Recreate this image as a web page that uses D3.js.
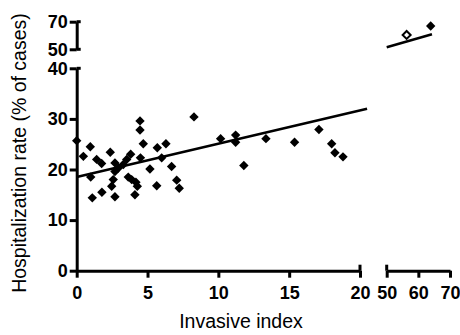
<!DOCTYPE html>
<html>
<head>
<meta charset="utf-8">
<script src="https://cdn.jsdelivr.net/npm/d3@7"></script>
<style>
  body { margin: 0; background: #fff; }
  svg { display: block; font-family: "Liberation Sans", Arial, sans-serif; }
</style>
</head>
<body>
<svg id="chart" width="460" height="335"></svg>
<script>
// invasive index (x) and hospitalization rate (y), lower panel
const invasiveIdx = [0, 0.96, 0.47, 1.41, 1.76, 2.37, 2.7, 2.94, 3.29, 3.53, 3.81, 2.7,
  0.99, 2.58, 2.47, 1.78, 1.1, 2.7, 3.64, 3.88, 4.18, 4.28, 4.11, 4.47, 4.47, 4.7,
  4.5, 5.17, 5.65, 5.69, 6.3, 6.0, 6.7, 7.06, 7.24, 8.28, 10.16, 11.22, 11.22, 11.8,
  13.36, 15.38, 17.1, 18.0, 18.23, 18.8];
const hospRate = [25.7, 24.5, 22.6, 22.0, 21.2, 23.4, 21.3, 20.3, 21.0, 22.0, 23.0, 19.6,
  18.5, 18.0, 16.7, 15.5, 14.4, 14.6, 18.5, 18.0, 17.5, 16.7, 15.0, 29.6, 27.8, 25.1,
  22.3, 20.1, 16.8, 24.3, 25.1, 22.3, 20.6, 17.9, 16.3, 30.4, 26.1, 26.8, 25.4, 20.8,
  26.1, 25.4, 27.9, 25.1, 23.3, 22.5];

// upper-right panel (broken axes)
const highIdx = [56.3, 63.9];
const highRate = [60.4, 66.9];
const highOpen = [true, false];

// regression line endpoints
const fitX = [0, 20.5];
const fitY = [18.5, 32.0];
const highFitX = [50, 64.3];
const highFitY = [51.5, 60.9];

const xTicksLow = [0, 5, 10, 15, 20];
const xTicksHigh = [50, 60, 70];
const yTicksLow = [0, 10, 20, 30, 40];
const yTicksHigh = [50, 70];

const svg = d3.select("#chart");

const xLow = d3.scaleLinear().domain([0, 20]).range([76.7, 360]);
const xHigh = d3.scaleLinear().domain([50, 70]).range([386.7, 450]);
const yLow = d3.scaleLinear().domain([0, 40]).range([270.7, 68.3]);
const yHigh = d3.scaleLinear().domain([50, 70]).range([49.3, 21.7]);

function styleAxis(g) {
  g.select(".domain").attr("stroke", "#000").attr("stroke-width", 3);
  g.selectAll(".tick line").attr("stroke", "#000").attr("stroke-width", 3);
  g.selectAll(".tick text")
    .attr("fill", "#000")
    .style("font-size", "18px")
    .style("font-weight", "bold");
}

// x axes
const gxLow = svg.append("g")
  .attr("transform", "translate(0," + yLow(0) + ")")
  .call(d3.axisBottom(xLow).tickValues(xTicksLow).tickSize(7).tickSizeOuter(0).tickPadding(9))
  .call(styleAxis);
gxLow.append("line").attr("x1", xLow(20)).attr("x2", xLow(20)).attr("y1", -6).attr("y2", 0)
  .attr("stroke", "#000").attr("stroke-width", 3);

const gxHigh = svg.append("g")
  .attr("transform", "translate(0," + yLow(0) + ")")
  .call(d3.axisBottom(xHigh).tickValues(xTicksHigh).tickSize(7).tickSizeOuter(0).tickPadding(9))
  .call(styleAxis);
gxHigh.append("line").attr("x1", xHigh(50)).attr("x2", xHigh(50)).attr("y1", -6).attr("y2", 0)
  .attr("stroke", "#000").attr("stroke-width", 3);

// y axes
const gyLow = svg.append("g")
  .attr("transform", "translate(" + xLow(0) + ",0)")
  .call(d3.axisLeft(yLow).tickValues(yTicksLow).tickSize(7).tickSizeOuter(0).tickPadding(2))
  .call(styleAxis);
gyLow.append("line").attr("x1", 0).attr("x2", 4).attr("y1", yLow(40)).attr("y2", yLow(40))
  .attr("stroke", "#000").attr("stroke-width", 3);

const gyHigh = svg.append("g")
  .attr("transform", "translate(" + xLow(0) + ",0)")
  .call(d3.axisLeft(yHigh).tickValues(yTicksHigh).tickSize(7).tickSizeOuter(0).tickPadding(2))
  .call(styleAxis);
gyHigh.append("line").attr("x1", 0).attr("x2", 4).attr("y1", yHigh(50)).attr("y2", yHigh(50))
  .attr("stroke", "#000").attr("stroke-width", 3);
gyHigh.append("line").attr("x1", 0).attr("x2", 4).attr("y1", yHigh(70)).attr("y2", yHigh(70))
  .attr("stroke", "#000").attr("stroke-width", 3);

// regression lines
const line = (xs, ys) => d3.line().x(d => xs(d[0])).y(d => ys(d[1]));
svg.append("path")
  .attr("d", line(xLow, yLow)(d3.zip(fitX, fitY)))
  .attr("stroke", "#000").attr("stroke-width", 2.5).attr("fill", "none");
svg.append("path")
  .attr("d", line(xHigh, yHigh)(d3.zip(highFitX, highFitY)))
  .attr("stroke", "#000").attr("stroke-width", 2.5).attr("fill", "none");

// points
const r = 4.7;
const diamond = "M0," + (-r) + "L" + r + ",0L0," + r + "L" + (-r) + ",0Z";
svg.append("g").selectAll("path")
  .data(d3.zip(invasiveIdx, hospRate))
  .join("path")
  .attr("d", diamond)
  .attr("transform", d => "translate(" + xLow(d[0]) + "," + yLow(d[1]) + ")")
  .attr("fill", "#000");

svg.append("g").selectAll("path")
  .data(d3.zip(highIdx, highRate, highOpen))
  .join("path")
  .attr("d", d => d[2] ? "M0,-4L4,0L0,4L-4,0Z" : diamond)
  .attr("transform", d => "translate(" + xHigh(d[0]) + "," + yHigh(d[1]) + ")")
  .attr("fill", d => d[2] ? "#fff" : "#000")
  .attr("stroke", "#000")
  .attr("stroke-width", d => d[2] ? 2 : 0);

// axis titles
svg.append("text")
  .attr("x", 241).attr("y", 328)
  .attr("text-anchor", "middle")
  .style("font-size", "19.5px")
  .text("Invasive index");

svg.append("text")
  .attr("transform", "translate(26,153) rotate(-90)")
  .attr("text-anchor", "middle")
  .style("font-size", "19.5px")
  .text("Hospitalization rate (% of cases)");
</script>
</body>
</html>
